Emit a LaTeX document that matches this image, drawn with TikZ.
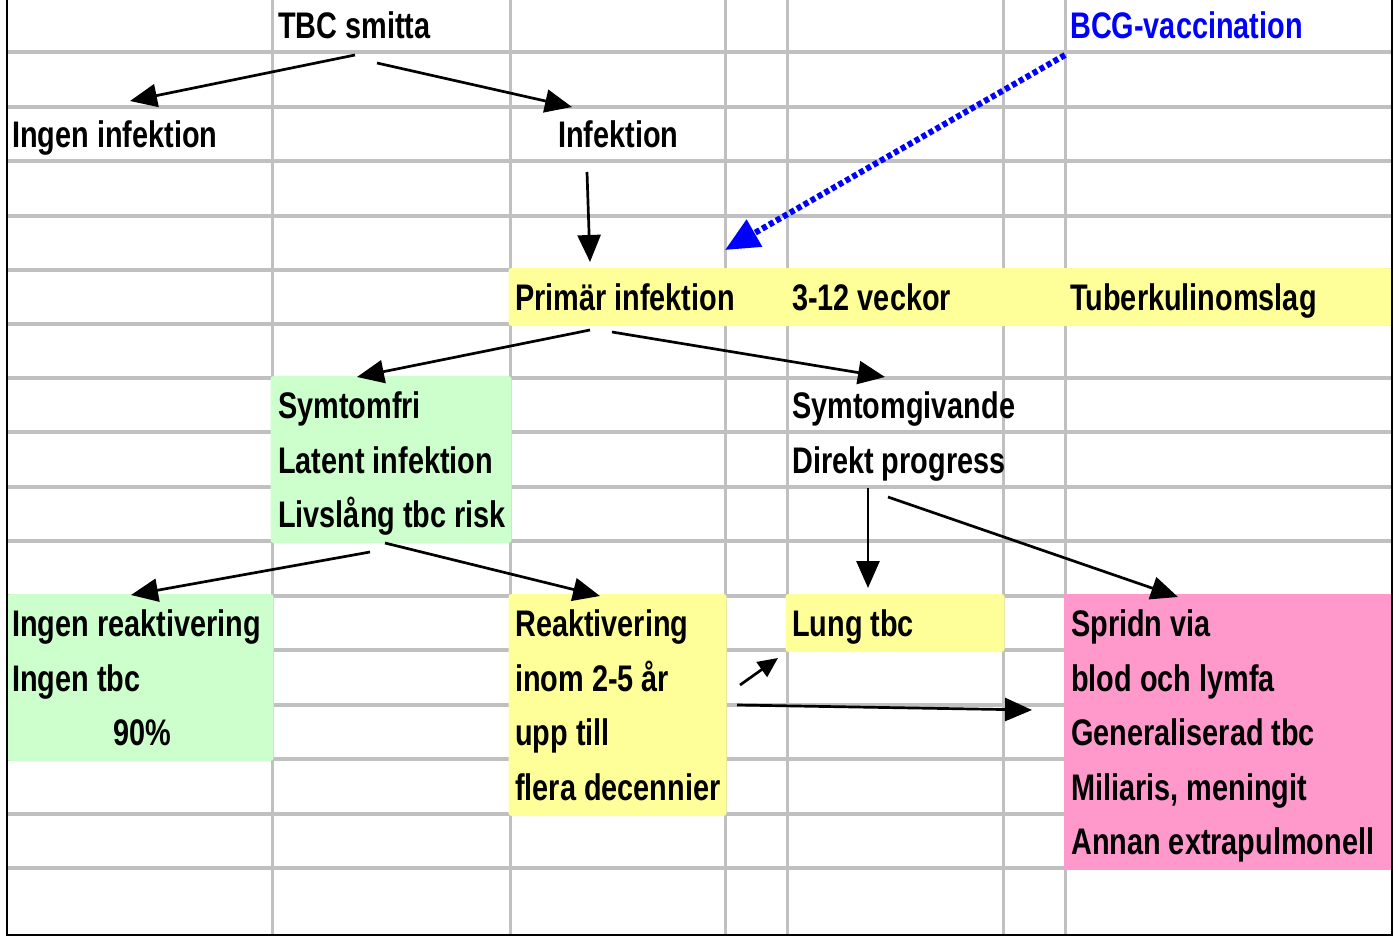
\documentclass[tikz,border=0pt]{standalone}
\usepackage{fontspec}
\setmainfont{Liberation Sans}[FakeStretch=0.78]
\usetikzlibrary{arrows.meta}
\definecolor{gridgray}{HTML}{C0C0C0}
\definecolor{cyellow}{HTML}{FFFF99}
\definecolor{cgreen}{HTML}{CCFFCC}
\definecolor{cpink}{HTML}{FF99CC}
\definecolor{cblue}{HTML}{0000FF}
\begin{document}
\begin{tikzpicture}[x=1pt,y=-1pt,
  txt/.style={anchor=base west, inner sep=0pt, font=\fontsize{37}{40}\selectfont\bfseries},
  arr/.style={line width=2.7pt, -{Triangle[length=27pt,width=23pt]}},
  bcgarr/.style={cblue, line width=6pt, dash pattern=on 5pt off 3pt, -{Triangle[length=34pt,width=30pt]}},
  hline/.style={gridgray, line width=4pt},
  vline/.style={gridgray, line width=3pt},
  block/.style={rounded corners=3pt}]
\useasboundingbox (0,0) rectangle (1395,937);
\fill[white] (0,0) rectangle (1395,937);
% grid
\foreach \y in {52,107,161,216,270,324,378,432,487,541,596,650,705,759,814,868}
  \draw[hline] (7,\y) -- (1392,\y);
\foreach \x in {272,510,725,787,1003,1065}
  \draw[vline] (\x,0) -- (\x,935);
% coloured blocks
\fill[cyellow,block] (508.5,268) rectangle (1392,326);
\fill[cgreen,block] (270.5,376) rectangle (511.5,543);
\fill[cgreen,block] (7,594) rectangle (273.5,761);
\fill[cyellow,block] (508.5,594) rectangle (726.5,816);
\fill[cyellow,block] (785.5,594) rectangle (1004.5,652);
\fill[cpink] (1063.5,594) rectangle (1392,870);
% border
\draw[line width=2.5pt] (7,0) -- (7,935) -- (1392,935) -- (1392,0);
% texts
\node[txt] (smitta) at (278,38) {TBC smitta};
\node[txt, text=cblue] (bcg) at (1070,38) {BCG-vaccination};
\node[txt] (ingeninf) at (12,147) {Ingen infektion};
\node[txt] (infektion) at (558,147) {Infektion};
\node[txt] (primar) at (515,310) {Primär infektion};
\node[txt] (veckor) at (792,310) {3-12 veckor};
\node[txt] (tuberk) at (1070,310) {Tuberkulinomslag};
\node[txt] (symtomfri) at (278,418) {Symtomfri};
\node[txt] (latent) at (278,473) {Latent infektion};
\node[txt] (livslang) at (278,527) {Livslång tbc risk};
\node[txt] (symtomgiv) at (792,418) {Symtomgivande};
\node[txt] (direkt) at (792,473) {Direkt progress};
\node[txt] (ingenreak) at (12,636) {Ingen reaktivering};
\node[txt] (ingentbc) at (12,691) {Ingen tbc};
\node[txt] (nittio) at (113,745) {90\%};
\node[txt] (reak) at (515,636) {Reaktivering};
\node[txt] (inom) at (515,691) {inom 2-5 år};
\node[txt] (upp) at (515,745) {upp till};
\node[txt] (flera) at (515,800) {flera decennier};
\node[txt] (lung) at (792,636) {Lung tbc};
\node[txt] (spridn) at (1071,636) {Spridn via};
\node[txt] (blod) at (1071,691) {blod och lymfa};
\node[txt] (general) at (1071,745) {Generaliserad tbc};
\node[txt] (miliaris) at (1071,800) {Miliaris, meningit};
\node[txt] (annan) at (1071,854) {Annan extrapulmonell};
% arrows
\draw[arr] ([shift={(77,17)}]smitta.base west) -- ([shift={(118,-46)}]ingeninf.base west);
\draw[arr] ([shift={(99,25)}]smitta.base west) -- ([shift={(14,-40)}]infektion.base west);
\draw[arr] ([shift={(29,25)}]infektion.base west) -- ([shift={(75,-48)}]primar.base west);
\draw[bcgarr] ([shift={(-5,17)}]bcg.base west) -- ([shift={(210,-60)}]primar.base west);
\draw[arr] ([shift={(75,20)}]primar.base west) -- ([shift={(79,-41)}]symtomfri.base west);
\draw[arr] ([shift={(97,22)}]primar.base west) -- ([shift={(93,-41)}]symtomgiv.base west);
\draw[arr] ([shift={(92,25)}]livslang.base west) -- ([shift={(119,-41)}]ingenreak.base west);
\draw[arr] ([shift={(107,16)}]livslang.base west) -- ([shift={(85,-40)}]reak.base west);
\draw[arr] ([shift={(76,15)}]direkt.base west) -- ([shift={(76,-48)}]lung.base west);
\draw[arr] ([shift={(96,24)}]direkt.base west) -- ([shift={(107,-39)}]spridn.base west);
\draw[arr, -{Triangle[length=20pt,width=18pt]}] ([shift={(225,-6)}]inom.base west) -- ([shift={(-14,22)}]lung.base west);
\draw[arr] ([shift={(222,-40)}]upp.base west) -- ([shift={(-39,-35)}]general.base west);
\end{tikzpicture}
\end{document}
